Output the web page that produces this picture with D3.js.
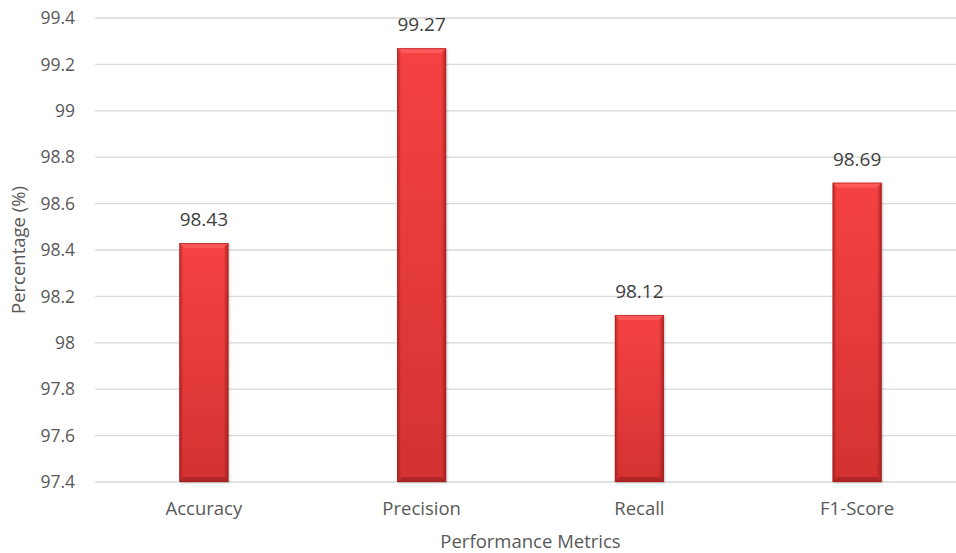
<!DOCTYPE html>
<html>
<head>
<meta charset="utf-8">
<script src="https://cdn.jsdelivr.net/npm/d3@7"></script>
<style>
  html, body { margin: 0; padding: 0; background: #ffffff; }
  svg { display: block; font-family: "Open Sans", "Noto Sans", sans-serif; }
</style>
</head>
<body>
<svg id="chart" width="956" height="553"></svg>
<script>
// Performance metrics of the model (%)
const categories = ["Accuracy", "Precision", "Recall", "F1-Score"];
const values = [98.43, 99.27, 98.12, 98.69];
const yTicks = [97.4, 97.6, 97.8, 98, 98.2, 98.4, 98.6, 98.8, 99, 99.2, 99.4];
const yTitle = "Percentage (%)";
const xTitle = "Performance Metrics";

const svg = d3.select("#chart");
const plot = { left: 95, right: 966, top: 18, bottom: 482 };
const textColor = "#595959";

const x = d3.scaleBand().domain(categories).range([plot.left, plot.right]).paddingInner(0.775).paddingOuter(0.3875);
const y = d3.scaleLinear().domain([97.4, 99.4]).range([plot.bottom, plot.top]);

// Bevelled bar fills
const defs = svg.append("defs");
const body = defs.append("linearGradient").attr("id", "barBody").attr("x1", 0).attr("y1", 0).attr("x2", 0).attr("y2", 1);
body.append("stop").attr("offset", 0).attr("stop-color", "#f54242");
body.append("stop").attr("offset", 0.5).attr("stop-color", "#e53a3a");
body.append("stop").attr("offset", 1).attr("stop-color", "#d33232");
const side = defs.append("linearGradient").attr("id", "barSide").attr("x1", 0).attr("y1", 0).attr("x2", 1).attr("y2", 0);
side.append("stop").attr("offset", 0).attr("stop-color", "#7a1010").attr("stop-opacity", 0.5);
side.append("stop").attr("offset", 0.08).attr("stop-color", "#7a1010").attr("stop-opacity", 0.0);
side.append("stop").attr("offset", 0.9).attr("stop-color", "#7a1010").attr("stop-opacity", 0.0);
side.append("stop").attr("offset", 1).attr("stop-color", "#7a1010").attr("stop-opacity", 0.55);
const shadow = defs.append("filter").attr("id", "barShadow").attr("x", "-20%").attr("y", "-5%").attr("width", "140%").attr("height", "110%");
shadow.append("feDropShadow").attr("dx", 1).attr("dy", 1).attr("stdDeviation", 1.2).attr("flood-color", "#000").attr("flood-opacity", 0.25);

// Gridlines
svg.append("g").selectAll("line").data(yTicks).join("line")
  .attr("x1", plot.left).attr("x2", plot.right)
  .attr("y1", d => y(d)).attr("y2", d => y(d))
  .attr("stroke", "#d9d9d9").attr("stroke-width", 1.3);

// Y axis labels
const yAxis = d3.axisLeft(y).tickValues(yTicks).tickSize(0).tickPadding(20).tickFormat(d3.format("~g"));
const gy = svg.append("g").attr("transform", `translate(${plot.left},0)`).call(yAxis);
gy.select(".domain").remove();
gy.selectAll("text").attr("fill", textColor).style("font-size", "17.5px").style("font-family", "'Open Sans', sans-serif");

// X axis labels
const xAxis = d3.axisBottom(x).tickSize(0).tickPadding(20);
const gx = svg.append("g").attr("transform", `translate(0,${plot.bottom})`).call(xAxis);
gx.select(".domain").remove();
gx.selectAll("text").attr("fill", textColor).style("font-size", "18.5px").style("font-family", "'Open Sans', sans-serif");

// Bars
const bw = x.bandwidth();
const bev = 5;
const bars = svg.append("g").selectAll("g").data(categories.map((c, i) => ({ c, v: values[i] }))).join("g");
bars.append("rect")
  .attr("x", d => x(d.c)).attr("y", d => y(d.v))
  .attr("width", bw).attr("height", d => plot.bottom - y(d.v))
  .attr("fill", "url(#barBody)").attr("filter", "url(#barShadow)");
bars.append("rect")
  .attr("x", d => x(d.c)).attr("y", d => y(d.v))
  .attr("width", bw).attr("height", d => plot.bottom - y(d.v))
  .attr("fill", "url(#barSide)");
// top bevel
bars.append("path")
  .attr("d", d => {
    const x0 = x(d.c), y0 = y(d.v);
    return `M${x0},${y0}L${x0 + bw},${y0}L${x0 + bw - bev},${y0 + bev}L${x0 + bev},${y0 + bev}Z`;
  })
  .attr("fill", "#ff5c5c").attr("opacity", 0.85);
// bottom bevel
bars.append("path")
  .attr("d", d => {
    const x0 = x(d.c), y1 = plot.bottom;
    return `M${x0},${y1}L${x0 + bw},${y1}L${x0 + bw - bev},${y1 - bev}L${x0 + bev},${y1 - bev}Z`;
  })
  .attr("fill", "#a82222").attr("opacity", 0.8);
bars.append("rect")
  .attr("x", d => x(d.c) + 0.5).attr("y", d => y(d.v) + 0.5)
  .attr("width", bw - 1).attr("height", d => plot.bottom - y(d.v) - 1)
  .attr("fill", "none").attr("stroke", "#a51d1d").attr("stroke-opacity", 0.55);

// Value labels
bars.append("text")
  .attr("x", d => x(d.c) + bw / 2).attr("y", d => y(d.v) - 17)
  .attr("text-anchor", "middle").attr("fill", "#404040")
  .style("font-size", "19px")
  .text(d => d.v.toFixed(2));

// Axis titles
svg.append("text")
  .attr("transform", `translate(25,${(plot.top + plot.bottom) / 2}) rotate(-90)`)
  .attr("text-anchor", "middle").attr("fill", textColor).style("font-size", "18.5px")
  .text(yTitle);
svg.append("text")
  .attr("x", (plot.left + plot.right) / 2).attr("y", 548)
  .attr("text-anchor", "middle").attr("fill", textColor).style("font-size", "18.5px")
  .text(xTitle);
</script>
</body>
</html>
